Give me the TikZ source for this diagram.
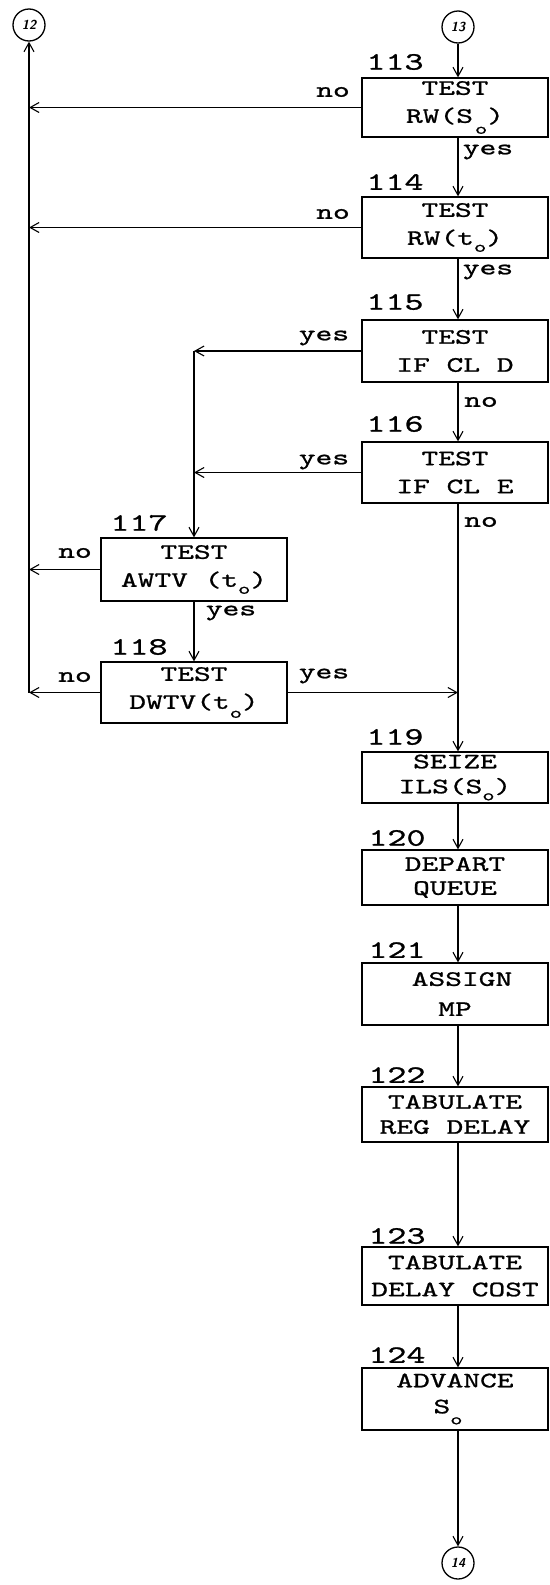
\documentclass[tikz,border=0pt]{standalone}
\usepackage{fontspec}
\newfontfamily\tw{lmmono10-regular}[Extension=.otf,FakeStretch=1.45,FakeBold=1]
\usetikzlibrary{arrows.meta}
\newcommand\sbo[1][-7pt]{\raisebox{#1}{\fontsize{16}{16}\selectfont o}}
\begin{document}
\begin{tikzpicture}[x=1pt,y=-1pt,
  box/.style={draw, line width=1.3pt, minimum width=186pt, inner sep=0pt, align=center, font=\tw\fontsize{22}{28}\selectfont},
  lsp/.style={font=\tw\fontsize{22}{#1}\selectfont},
  num/.style={font=\tw\fontsize{25}{25}\selectfont, inner sep=0pt},
  lbl/.style={font=\tw\fontsize{22}{22}\selectfont, inner sep=0pt},
  conn/.style={draw, circle, line width=1.3pt, minimum size=32pt, inner sep=0pt, font=\sffamily\bfseries\itshape\fontsize{13}{13}\selectfont},
  arr/.style={line width=1.3pt, -{Straight Barb[length=9pt,width=10pt,line width=1.1pt]}}]
\useasboundingbox (0,0) rectangle (549,1585);

% connectors (circles)
\node[conn] (c12) at (29,25) {12};
\node[conn] (c13) at (458,27) {13};
\node[conn] (c14) at (458,1563) {14};

% boxes
\node[box, minimum height=59pt] (b113) at (455,107.5) {TEST\\RW(S\hspace{2pt}\sbo[-11pt])};
\node[box, minimum height=61pt] (b114) at (455,227.5) {TEST\\RW(t\sbo)};
\node[box, minimum height=62pt] (b115) at (455,351) {TEST\\IF CL D};
\node[box, minimum height=61pt] (b116) at (455,472.5) {TEST\\IF CL E};
\node[box, minimum height=63pt] (b117) at (194,569.5) {TEST\\AWTV (t\sbo)};
\node[box, minimum height=61pt] (b118) at (194,692.5) {TEST\\DWTV(t\sbo[-9pt])};
\node[box, lsp=25, minimum height=51pt] (b119) at (455,777.5) {SEIZE\\ILS(S\sbo)};
\node[box, lsp=24, minimum height=55pt] (b120) at (455,877.5) {DEPART\\QUEUE};
\node[box, lsp=30, minimum height=62pt] (b121) at (455,994) {\hspace*{14pt}ASSIGN\\MP};
\node[box, lsp=25, minimum height=55pt] (b122) at (455,1114.5) {TABULATE\\REG DELAY};
\node[box, lsp=27, minimum height=58pt] (b123) at (455,1276) {TABULATE\\DELAY COST};
\node[box, lsp=26, minimum height=62pt] (b124) at (455,1399) {ADVANCE\\S\sbo[-11pt]\hspace*{14pt}};

% block numbers
\node[num] (n113) at (395,62) {113};
\node[num] (n114) at (395,182) {114};
\node[num] (n115) at (395,302) {115};
\node[num] (n116) at (395,424) {116};
\node[num] (n117) at (139,523) {117};
\node[num] (n118) at (139,647) {118};
\node[num] (n119) at (395,737) {119};
\node[num] (n120) at (397,838) {120};
\node[num] (n121) at (397,950) {121};
\node[num] (n122) at (397,1075) {122};
\node[num] (n123) at (397,1236) {123};
\node[num] (n124) at (397,1355) {124};

% branch labels
\node[lbl] (l113n) at (333,92) {no};
\node[lbl] (l114n) at (333,214) {no};
\node[lbl] (l113y) at (488,152) {yes};
\node[lbl] (l114y) at (488,272) {yes};
\node[lbl] (l115y) at (324,338) {yes};
\node[lbl] (l115n) at (481,402) {no};
\node[lbl] (l116y) at (324,462) {yes};
\node[lbl] (l116n) at (481,522) {no};
\node[lbl] (l117n) at (75,553) {no};
\node[lbl] (l117y) at (231,613) {yes};
\node[lbl] (l118n) at (75,677) {no};
\node[lbl] (l118y) at (324,676) {yes};

% main column
\draw[arr] (c13.south) -- (b113.north -| c13);
\draw[arr] (b113.south -| c13) -- (b114.north -| c13);
\draw[arr] (b114.south -| c13) -- (b115.north -| c13);
\draw[arr] (b115.south -| c13) -- (b116.north -| c13);
\draw[arr] (b116.south -| c13) -- (b119.north -| c13);
\draw[arr] (b119.south -| c13) -- (b120.north -| c13);
\draw[arr] (b120.south -| c13) -- (b121.north -| c13);
\draw[arr] (b121.south -| c13) -- (b122.north -| c13);
\draw[arr] (b122.south -| c13) -- (b123.north -| c13);
\draw[arr] (b123.south -| c13) -- (b124.north -| c13);
\draw[arr] (b124.south -| c13) -- (c14.north);

% left exits to 12
\draw[arr] (b113.west) -- (b113.west -| c12);
\draw[arr] (b114.west) -- (b114.west -| c12);
\draw[arr] (b117.west) -- (b117.west -| c12);
\draw[arr] (b118.west) -- (b118.west -| c12);
\draw[arr] (b118.west -| c12) -- (c12.south);

% yes branches
\draw[arr] (b115.west) -- (b115.west -| b117.north);
\draw[arr] (b115.west -| b117.north) -- (b117.north);
\draw[arr] (b116.west) -- (b116.west -| b117.north);
\draw[arr] (b117.south) -- (b118.north);
\draw[arr] (b118.east) -- (b118.east -| c13);
\end{tikzpicture}
\end{document}
